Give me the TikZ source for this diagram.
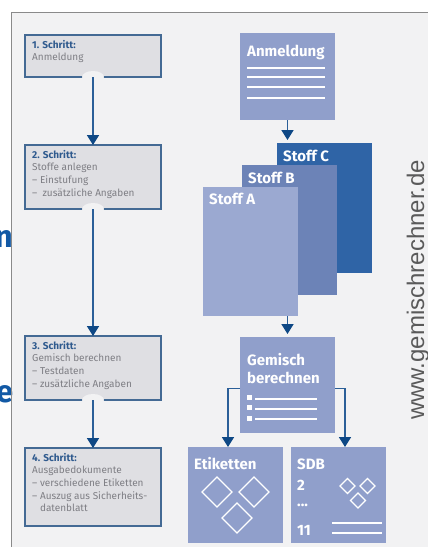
\documentclass[tikz,border=0pt]{standalone}
\usepackage{fontspec}
\setmainfont{Fira Sans}
\newfontfamily\wmfont{Liberation Sans}
\usetikzlibrary{arrows.meta,shapes.geometric}
\definecolor{pagebg}{HTML}{F2F2F3}
\definecolor{framegray}{HTML}{8A8A8A}
\definecolor{stepfill}{HTML}{DFDFE3}
\definecolor{stepline}{HTML}{446A94}
\definecolor{stepblue}{HTML}{2F5A8E}
\definecolor{txtgray}{HTML}{7E7E84}
\definecolor{wire}{HTML}{2B5F98}
\definecolor{headblue}{HTML}{0E4885}
\definecolor{paneblue}{HTML}{909FCB}
\definecolor{stoffa}{HTML}{9BA9D1}
\definecolor{stoffb}{HTML}{6C83B7}
\definecolor{stoffc}{HTML}{2F64A6}
\definecolor{cutblue}{HTML}{1259A5}
\definecolor{wmgray}{HTML}{5A5A5A}
\tikzset{
  stepbox/.style={draw=stepline,fill=stepfill,line width=1.4pt,minimum width=136pt,inner sep=0pt,outer sep=0pt},
  steptext/.style={anchor=north west,inner sep=0pt,align=left,text=txtgray,font=\fontsize{10}{12.6}\selectfont},
  gapblob/.style={fill=pagebg,draw=none,ellipse,minimum width=22pt,minimum height=12pt,inner sep=0pt},
  pane/.style={minimum width=95pt,minimum height=96pt,inner sep=0pt,outer sep=0pt,fill=paneblue},
  paper/.style={minimum width=95pt,minimum height=130pt,inner sep=0pt,outer sep=0pt},
  panetext/.style={anchor=west,inner sep=0pt,text=white,align=left,font=\fontsize{15}{18}\selectfont\bfseries},
  flow/.style={draw=wire,line width=1.8pt,-{Triangle[width=12pt,length=10pt,color=headblue]}},
  rule/.style={draw=white,line width=2pt},
  gem/.style={draw=white,line width=1.4pt,fill=none},
  cut/.style={anchor=base east,inner sep=0pt,text=cutblue,font=\fontsize{31}{31}\selectfont\bfseries},
  dot/.style={fill=white,draw=none,minimum size=5pt,inner sep=0pt}
}
\newcommand{\gemshape}[3]{\draw[gem] (#1-#3,#2) -- (#1,#2-#3) -- (#1+#3,#2) -- (#1,#2+#3) -- cycle;}
\begin{document}
\begin{tikzpicture}[x=1pt,y=-1pt]
\useasboundingbox (0,0) rectangle (428,547);
\fill[white] (0,0) rectangle (428,547);
\fill[pagebg] (11,12) rectangle (428,547);
\node[cut] (cutn) at (13,247) {n};
\node[cut] (cute) at (13.5,402.5) {e};
\draw[framegray,line width=1pt] (11,547) -- (11,12) -- (428,12);

% left column
\node[stepbox,minimum height=42pt] (s1) at (93,56) {};
\node[stepbox,minimum height=64pt] (s2) at (93,177) {};
\node[stepbox,minimum height=64pt] (s3) at (93,368) {};
\node[stepbox,minimum height=78pt] (s4) at (93,487) {};
\node[gapblob] (g1) at (s1.south) {};
\node[gapblob] (g2) at (s2.south) {};
\node[gapblob] (g3) at (s3.south) {};
\node[steptext] (t1) at (32,40) {{\bfseries\color{stepblue}1. Schritt:}\\Anmeldung};
\node[steptext] (t2) at (32,150) {{\bfseries\color{stepblue}2. Schritt:}\\Stoffe anlegen\\– Einstufung\\–\ \ zusätzliche Angaben};
\node[steptext] (t3) at (32,341) {{\bfseries\color{stepblue}3. Schritt:}\\Gemisch berechnen\\– Testdaten\\– zusätzliche Angaben};
\node[steptext] (t4) at (32,453) {{\bfseries\color{stepblue}4. Schritt:}\\Ausgabedokumente\\– verschiedene Etiketten\\– Auszug aus Sicherheits-\\\phantom{– }datenblatt};
\draw[flow] (s1.south) -- (s2.north);
\draw[flow] (s2.south) -- (s3.north);
\draw[flow] (s3.south) -- (s4.north);

% right column
\node[pane,minimum height=87pt] (anm) at (287.5,76.5) {};
\node[panetext] (anmt) at (247,52) {Anmeldung};
\draw[rule] (247,68) -- (325,68) (247,77) -- (325,77) (247,87) -- (325,87) (247,98) -- (325,98);

\node[paper,fill=stoffc] (sc) at (324.5,208) {};
\node[paper,fill=stoffb] (sb) at (289.5,230) {};
\node[paper,fill=stoffa,minimum height=129pt] (sa) at (250.5,251.5) {};
\node[panetext] (sct) at (283,155.5) {Stoff C};
\node[panetext] (sbt) at (248,177.5) {Stoff B};
\node[panetext] (sat) at (209,199) {Stoff A};

\node[pane] (gm) at (287.5,385) {};
\node[panetext] (gmt) at (247,369) {Gemisch\\berechnen};
\node[dot] (d1) at (249,397) {};
\node[dot] (d2) at (249,407.5) {};
\node[dot] (d3) at (249,418) {};
\draw[rule] (255,399) -- (317,399) (255,408.5) -- (317,408.5) (255,418.5) -- (317,418.5);

\node[pane] (et) at (235,495) {};
\node[pane] (sd) at (338,495) {};
\node[panetext] (ett) at (194,464) {Etiketten};
\node[panetext] (sdt) at (297,464) {SDB};
\node[panetext] (sd2) at (297,485) {2};
\node[panetext] (sd3) at (297,505) {...};
\node[panetext] (sd11) at (297,530) {11};
\gemshape{217}{492}{15}
\gemshape{254}{492}{15}
\gemshape{237}{518}{15}
\gemshape{347.5}{486}{7.5}
\gemshape{367.5}{486}{7.5}
\gemshape{358}{500.5}{7.5}
\draw[rule] (332,523) -- (382,523) (332,533) -- (382,533);

\draw[flow] (anm.south) -- ([yshift=3pt]anm.south |- sc.north);
\draw[flow] (gm.north |- sa.south) -- ([yshift=3pt]gm.north);
\draw[flow] ([yshift=-3.5pt]gm.west) -| ([xshift=-7pt]et.north);
\draw[flow] ([yshift=-3.5pt]gm.east) -| ([xshift=7pt]sd.north);

\node[rotate=90,anchor=west,inner sep=0pt,text=wmgray,font=\wmfont\fontsize{24}{24}\selectfont] (wm) at (418,420) {www.gemischrechner.de};
\end{tikzpicture}
\end{document}
